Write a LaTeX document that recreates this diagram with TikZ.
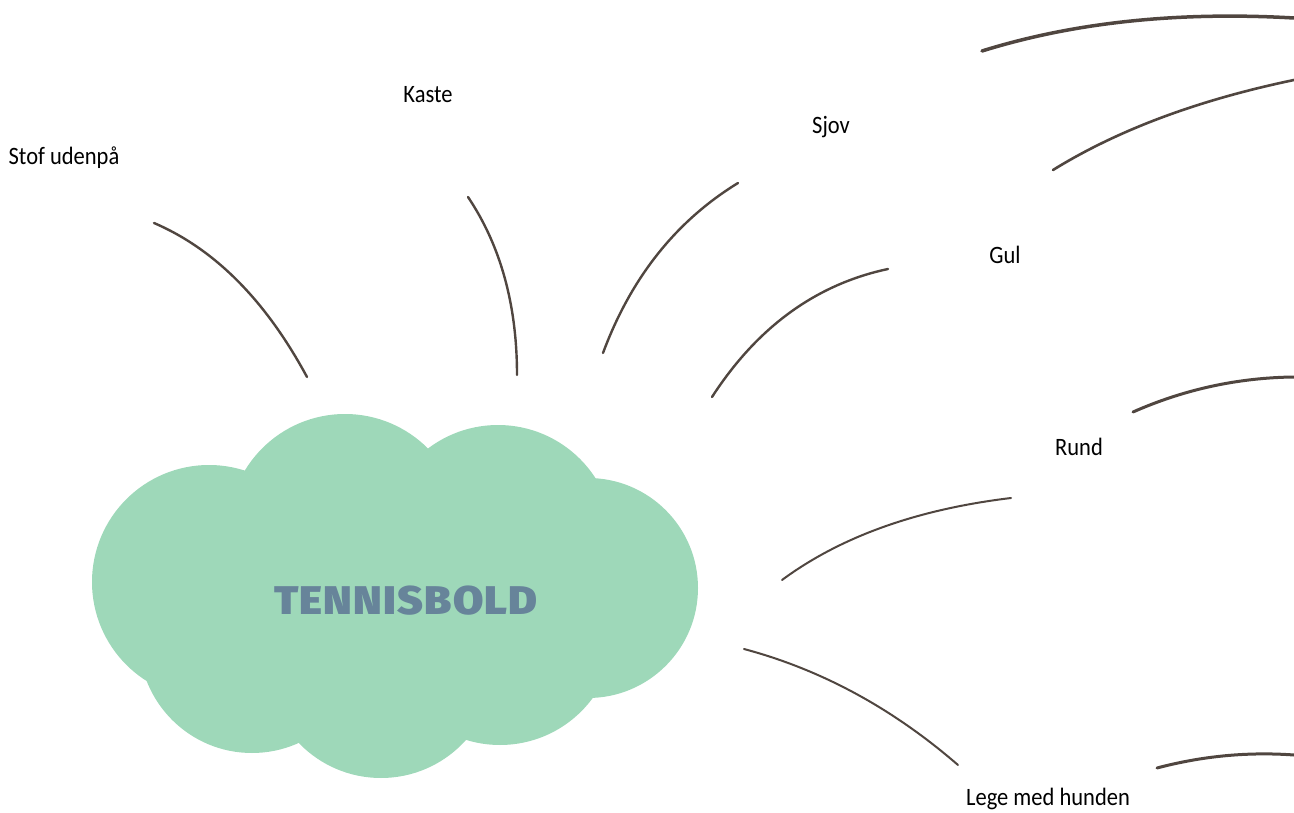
\documentclass[tikz,border=0pt]{standalone}
\usepackage{fontspec}
\setmainfont{Carlito}[FakeStretch=0.9]
\newfontfamily\titlefont[LetterSpace=3,FakeStretch=1.1]{Fira Sans Black}
\usetikzlibrary{calc}
\definecolor{cloudgreen}{HTML}{9ED8B9}
\definecolor{titleblue}{HTML}{67849A}
\definecolor{linebrown}{HTML}{504640}
\begin{document}
\begin{tikzpicture}[x=1pt,y=-1pt,
  lbl/.style={font=\fontsize{25}{28}\selectfont, text=black, inner sep=0pt},
  conn/.style={draw=linebrown, line width=2.4pt, line cap=round}]
\useasboundingbox (0,0) rectangle (1294,813);
% cloud
\fill[cloudgreen] (209,582) circle (117);
\fill[cloudgreen] (345,531) circle (117);
\fill[cloudgreen] (498,541) circle (116);
\fill[cloudgreen] (588,588) circle (110);
\fill[cloudgreen] (500,630) circle (115);
\fill[cloudgreen] (381,664) circle (114);
\fill[cloudgreen] (252,640) circle (113);
\fill[cloudgreen] (400,590) circle (140);
\node[font=\titlefont\fontsize{40}{44}\selectfont, text=titleblue] (title) at (406,601) {TENNISBOLD};
% labels
\node[lbl] (stof) at (64,158) {Stof udenpå};
\node[lbl] (kaste) at (428,95) {Kaste};
\node[lbl] (sjov) at (831,127) {Sjov};
\node[lbl] (gul) at (1005,255) {Gul};
\node[lbl] (rund) at (1079,447) {Rund};
\node[lbl] (lege) at (1048,799) {Lege med hunden};
% connector endpoints and quadratic control points
\coordinate (s1) at (154,223); \coordinate (s2) at (307,377); \coordinate (sq) at (245,262);
\coordinate (k1) at (468,197); \coordinate (k2) at (517,375); \coordinate (kq) at (517,270);
\coordinate (j1) at (738,183); \coordinate (j2) at (603,353); \coordinate (jq) at (645,240);
\coordinate (g1) at (888,269); \coordinate (g2) at (712,397); \coordinate (gq) at (780,292);
\coordinate (r1) at (1011,498); \coordinate (r2) at (782,580); \coordinate (rq) at (870,515);
\coordinate (l1) at (744,649); \coordinate (l2) at (958,765); \coordinate (lq) at (860,680);
\coordinate (a1) at (982,51); \coordinate (a2) at (1294,18); \coordinate (aq) at (1120,8);
\coordinate (b1) at (1053,170); \coordinate (b2) at (1294,80); \coordinate (bq) at (1150,110);
\coordinate (c1) at (1133,412); \coordinate (c2) at (1294,377); \coordinate (cq) at (1210,378);
\coordinate (d1) at (1157,768); \coordinate (d2) at (1294,755); \coordinate (dq) at (1225,750);
\foreach \p/\w in {s/2.4pt,k/2.4pt,j/2.4pt,g/2.4pt,r/2pt,l/2pt,a/3.5pt,b/2.6pt,c/3pt,d/3pt}{
  \draw[conn, line width=\w] (\p1) .. controls ($(\p1)!0.667!(\p q)$) and ($(\p2)!0.667!(\p q)$) .. (\p2);
}
\end{tikzpicture}
\end{document}
